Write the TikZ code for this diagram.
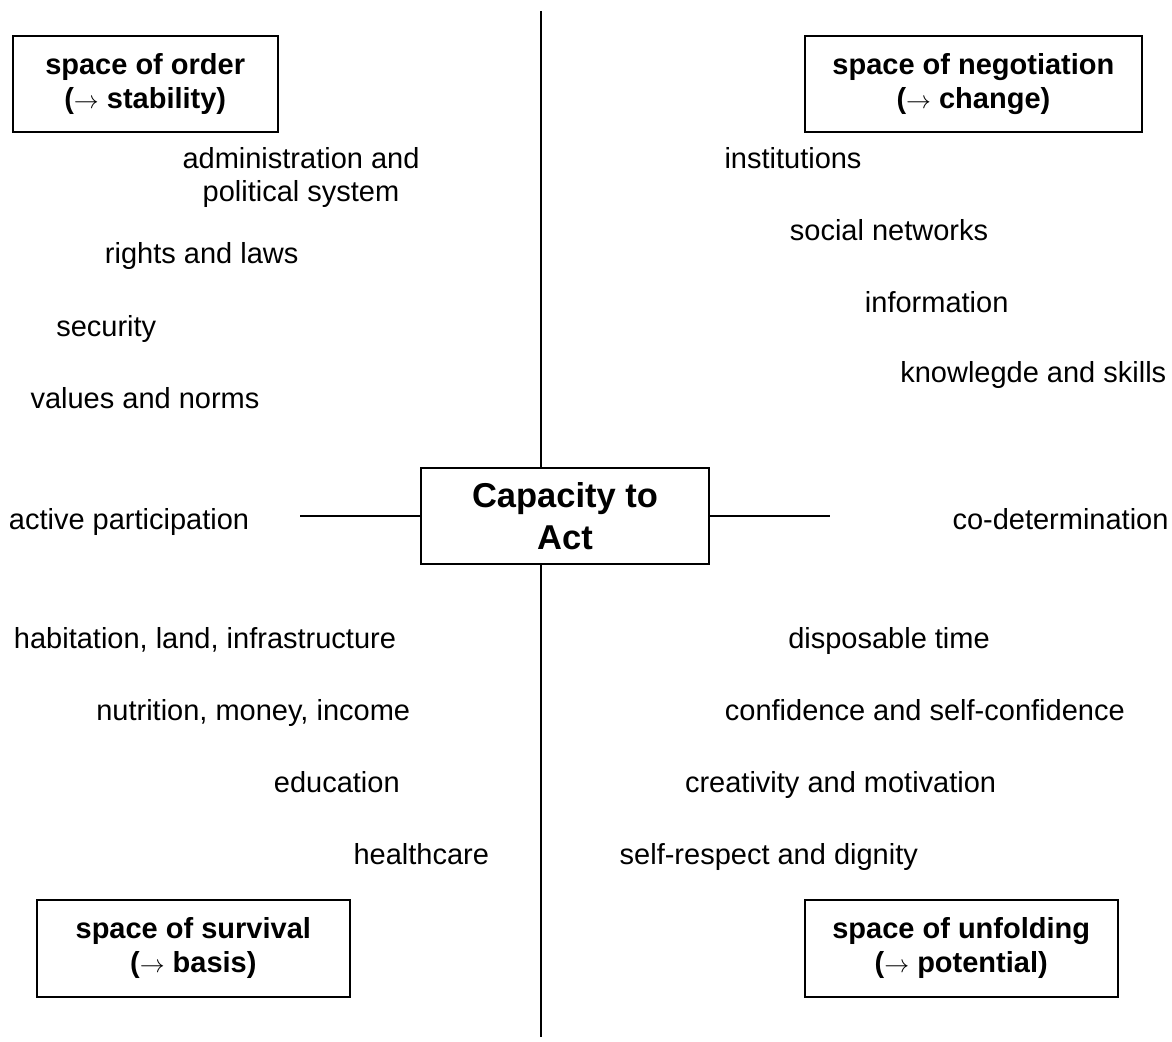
\documentclass[tikz,border=0pt]{standalone}
\usepackage{fontspec}
\setmainfont{Liberation Sans}

\begin{document}
\begin{tikzpicture}[x=1pt,y=-1pt]
  % overall canvas
  \useasboundingbox (0,0) rectangle (1172,1041);

  % styles
  \tikzset{
    t0/.style={font=\fontsize{29}{33.4}\selectfont,anchor=base,align=center,inner sep=0pt},
    t1/.style={font=\fontsize{29}{33.4}\selectfont,align=center,inner sep=0pt},
    b0/.style={draw=black,line width=2pt,font=\bfseries\fontsize{29}{34}\selectfont,
               align=center,minimum height=96.6pt,inner sep=0pt},
    b1/.style={b0,font=\bfseries\fontsize{34.5}{42}\selectfont},
    g1/.style={draw=black,line width=2pt,line cap=butt},
  }

  % white background
  \fill[white] (0,0) rectangle (1172,1041);

  % centre box and the axes
  \node[b1,minimum width=288.5pt] (cap) at (565,516) {Capacity to\\Act};

  \coordinate (vtop)   at (541.3,  11);
  \coordinate (vbot)   at (541.3,1037);
  \coordinate (hleft)  at (300.4, 516);
  \coordinate (hright) at (829.6, 516);

  \draw[g1] (vtop) -- (vtop |- cap.north);
  \draw[g1] (vbot |- cap.south) -- (vbot);
  \draw[g1] (hleft) -- (cap.west);
  \draw[g1] (cap.east) -- (hright);

  % the four spaces
  \node[b0,minimum width=265pt]   (ordr)   at (145.2, 84.0) {space of order\\($\rightarrow$ stability)};
  \node[b0,minimum width=337.3pt] (negot)  at (973.4, 84.0) {space of negotiation\\($\rightarrow$ change)};
  \node[b0,minimum width=313.3pt] (surv)   at (193.3,948.3) {space of survival\\($\rightarrow$ basis)};
  \node[b0,minimum width=313.1pt] (unfold) at (961.2,948.3) {space of unfolding\\($\rightarrow$ potential)};

  % upper left
  \node[t1] (adm)    at (301.0,177.5) {administration and\\political system};
  \node[t0] (rights) at (201.7,263.3) {rights and laws};
  \node[t0] (secu)   at (106.3,336.7) {security};
  \node[t0] (vals)   at (145.0,408.3) {values and norms};

  % upper right
  \node[t0] (inst)   at (793.0,168.3) {institutions};
  \node[t0] (socnet) at (889.0,240.0) {social networks};
  \node[t0] (info)   at (936.7,312.7) {information};
  \node[t0] (know)   at (1033.3,382.0) {knowlegde and skills};

  % middle row
  \node[t0] (actp)   at (129.0,529.0) {active participation};
  \node[t0] (codet)  at (1060.5,529.0) {co-determination};

  % lower left
  \node[t0] (habit)  at (205.0,648.3) {habitation, land, infrastructure};
  \node[t0] (nutri)  at (253.2,720.0) {nutrition, money, income};
  \node[t0] (educ)   at (336.8,792.3) {education};
  \node[t0] (health) at (421.3,864.3) {healthcare};

  % lower right
  \node[t0] (disp)   at (889.0,648.0) {disposable time};
  \node[t0] (conf)   at (924.8,720.0) {confidence and self-confidence};
  \node[t0] (creat)  at (840.6,792.0) {creativity and motivation};
  \node[t0] (selfr)  at (768.8,864.0) {self-respect and dignity};
\end{tikzpicture}
\end{document}
